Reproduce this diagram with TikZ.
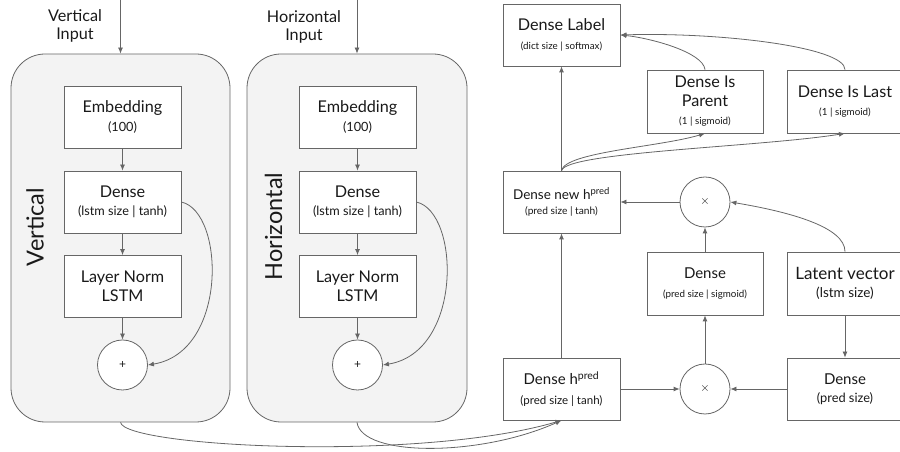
\documentclass[tikz,border=0pt]{standalone}
\usepackage{fontspec}
\setmainfont{Lato}
\usetikzlibrary{arrows.meta}
\definecolor{ln}{RGB}{102,102,102}
\definecolor{pf}{RGB}{243,243,243}
\newcommand\mysm{\fontsize{12.7}{14}\selectfont}
\newcommand\mysn{\fontsize{11.5}{13}\selectfont}
\newcommand\myxs{\fontsize{9.8}{11}\selectfont}
\newcommand\mymd{\fontsize{13.5}{15}\selectfont}
\newcommand\myrg{\fontsize{15}{17}\selectfont}
\newcommand\mybg{\fontsize{17}{19}\selectfont}
\begin{document}
\begin{tikzpicture}[x=1pt,y=1pt,
  every node/.style={font=\fontsize{16.2}{18.5}\selectfont, text=black!90, align=center, inner sep=0pt},
  panel/.style={draw=ln, fill=pf, line width=0.8pt, rounded corners=34pt, minimum width=219pt, minimum height=368pt},
  blk/.style={draw=ln, fill=white, line width=0.8pt, minimum width=117pt, minimum height=62pt},
  op/.style={draw=ln, fill=white, circle, line width=0.8pt, minimum size=50pt, font=\fontsize{12}{14}\selectfont},
  side/.style={font=\fontsize{23.5}{26}\selectfont, rotate=90},
  arr/.style={draw=ln, line width=0.8pt, -{Latex[length=6pt,width=5pt]}}]
\useasboundingbox (0,0) rectangle (900,452);

% ---- Vertical panel ----
\node[panel] (vp) at (120.5,214) {};
\node[side] (vlab) at (35,225) {Vertical};
\node (vin) at (75,426) {Vertical\\[-1pt]Input};
\coordinate (vtop) at (120.5,452);
\node[blk] (vemb) at (122.5,335) {Embedding\\[0pt]{\mysm (100)}};
\node[blk] (vden) at (122.5,250) {Dense\\[0pt]{\mysm (lstm size | tanh)}};
\node[blk] (vln) at (122.5,165.5) {Layer Norm\\LSTM};
\node[op] (vplus) at (122.5,87) {+};

% ---- Horizontal panel ----
\node[panel, minimum width=220pt] (hp) at (357,214) {};
\node[side] (hlab) at (273.5,225.5) {Horizontal};
\node (hin) at (304,425) {Horizontal\\[-1pt]Input};
\coordinate (htop) at (357,452);
\node[blk] (hemb) at (357.5,335) {Embedding\\[0pt]{\mysm (100)}};
\node[blk] (hden) at (357.5,250) {Dense\\[0pt]{\mysm (lstm size | tanh)}};
\node[blk] (hln) at (357.5,165.5) {Layer Norm\\LSTM};
\node[op] (hplus) at (357.5,87) {+};

% ---- right part ----
\node[blk] (dlab) at (561.5,417) {Dense Label\\[0pt]{\myxs (dict size | softmax)}};
\node[blk, minimum width=116pt, minimum height=63pt] (dpar) at (705,350.5) {Dense Is\\Parent\\[0pt]{\myxs (1 | sigmoid)}};
\node[blk, minimum width=116pt, minimum height=63pt] (dlast) at (845,350.5) {Dense Is Last\\[0pt]{\myxs (1 | sigmoid)}};
\node[blk] (dnew) at (561.5,250) {{\mymd Dense new h\textsuperscript{pred}}\\[-3pt]{\fontsize{10.2}{12}\selectfont (pred size | tanh)}};
\node[op] (mtop) at (705,250) {$\times$};
\node[blk, minimum width=116pt, minimum height=63pt] (dsig) at (705,168.5) {{\myrg Dense}\\[0pt]{\myxs (pred size | sigmoid)}};
\node[blk, minimum width=116pt, minimum height=63pt] (lat) at (845,168.5) {{\mybg Latent vector}\\[0pt]{\mymd (lstm size)}};
\node[blk] (dh) at (561.5,63) {{\myrg Dense h\textsuperscript{pred}}\\[1pt]{\mysn (pred size | tanh)}};
\node[op] (mbot) at (705,63) {$\times$};
\node[blk, minimum width=116pt] (dpred) at (845,63) {{\myrg Dense}\\[0pt]{\fontsize{12.8}{15}\selectfont (pred size)}};

% ---- connectors ----
\draw[arr] (vtop) -- (vp.north);
\draw[arr] (htop) -- (hp.north);
\foreach \p in {v,h}{
  \draw[arr] (\p emb) -- (\p den);
  \draw[arr] (\p den) -- (\p ln);
  \draw[arr] (\p ln) -- (\p plus);
}
\draw[arr] (vden.east) .. controls (225,240) and (228,100) .. (vplus.east);
\draw[arr] (hden.east) .. controls (460,240) and (463,100) .. (hplus.east);

\draw[arr] (vp.south) .. controls (125,5) and (420,-10) .. (dh.south);
\draw[arr] (hp.south) .. controls (362,-5) and (480,-5) .. (dh.south);

\draw[arr] (dh) -- (dnew);
\draw[arr] (dnew) -- (dlab);
\draw[arr] (dnew.north) .. controls (565,300) and (660,305) .. (dpar.south);
\draw[arr] (dnew.north) .. controls (566,300) and (760,305) .. (dlast.south);
\draw[arr] (dpar.north) .. controls (703,400) and (650,414) .. (dlab.east);
\draw[arr] (dlast.north) .. controls (845,405) and (720,420) .. (dlab.east);
\draw[arr] (mtop) -- (dnew);
\draw[arr] (lat.north) .. controls (845,225) and (790,240) .. (mtop.east);
\draw[arr] (dsig) -- (mtop);
\draw[arr] (mbot) -- (dsig);
\draw[arr] (dh) -- (mbot);
\draw[arr] (dpred) -- (mbot);
\draw[arr] (lat) -- (dpred);
\end{tikzpicture}
\end{document}
